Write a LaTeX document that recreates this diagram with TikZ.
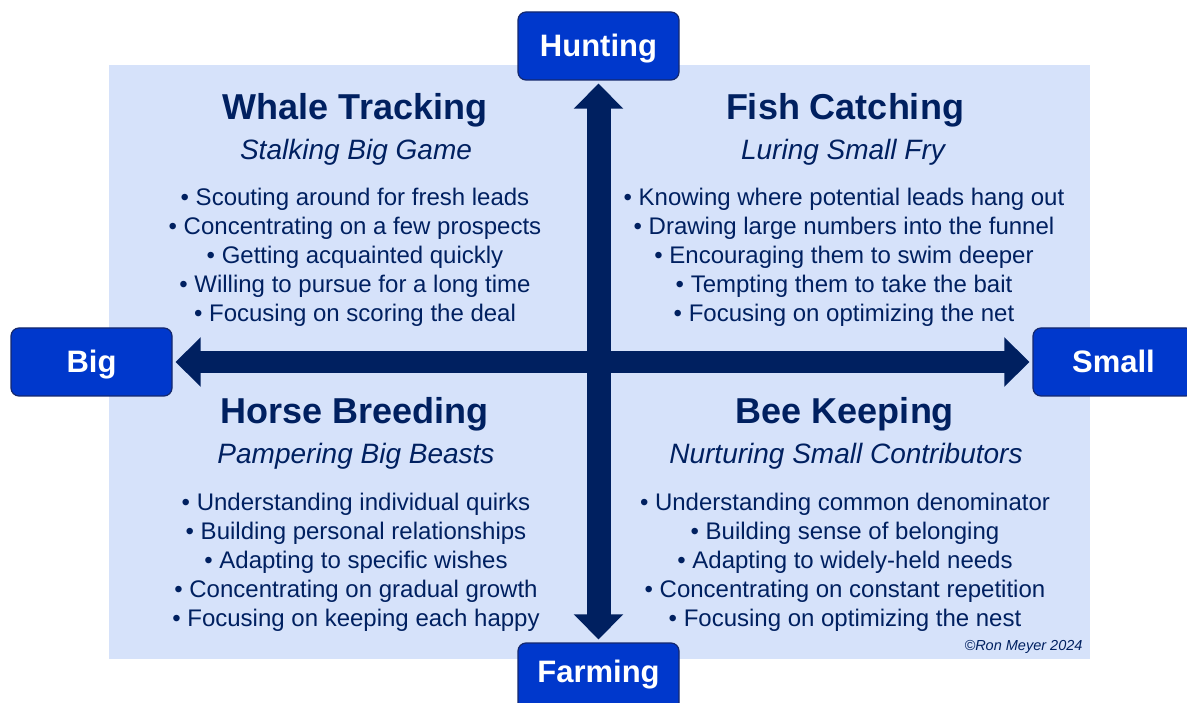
\documentclass[tikz,border=0pt]{standalone}
\usepackage{fontspec}
\setmainfont{Liberation Sans}
\usetikzlibrary{arrows.meta}
\definecolor{navy}{RGB}{0,32,96}
\definecolor{boxblue}{RGB}{0,56,204}
\definecolor{boxline}{RGB}{20,40,110}
\definecolor{paleblue}{RGB}{214,226,250}
\begin{document}
\begin{tikzpicture}[x=1pt,y=-1pt,
    pole/.style={rectangle,rounded corners=8pt,draw=boxline,line width=1.2pt,fill=boxblue,
        minimum width=161pt,minimum height=68pt,text height=22pt,text depth=0pt,
        text=white,font=\fontsize{31}{31}\selectfont\bfseries},
    axis/.style={draw=navy,line width=#1,shorten <=3pt,shorten >=3pt,
        {Triangle[length=25pt,width=48pt]}-{Triangle[length=25pt,width=48pt]}},
    title/.style={anchor=base,text=navy,font=\fontsize{36}{36}\selectfont\bfseries},
    subtitle/.style={anchor=base,text=navy,font=\fontsize{28}{28}\selectfont\itshape},
    points/.style={anchor=base,align=center,text=navy,font=\fontsize{24}{29}\selectfont}]
        \clip (0,0) rectangle (1187,703);
        \fill[paleblue] (109,65) rectangle (1090,659);

        \node[pole] (hunt) at (598.5,46) {Hunting};
        \node[pole,text height=11pt] (farm) at (598.5,677) {Farming};
        \node[pole] (big) at (91.5,362) {Big};
        \node[pole] (small) at (1113.5,362) {Small};

        \draw[axis=24pt] (hunt) -- (farm);
        \draw[axis=22pt] (big) -- (small);

        % top left (base = last line)
        \node[title] (whale) at (355,120) {Whale Tracking};
        \node[subtitle] (whalesub) at (356,160) {Stalking Big Game};
        \node[points] (whalelist) at (355,322) {• Scouting around for fresh leads\\
            • Concentrating on a few prospects\\ • Getting acquainted quickly\\
            • Willing to pursue for a long time\\ • Focusing on scoring the deal};

        % top right
        \node[title] (fish) at (845,120) {Fish Catching};
        \node[subtitle] (fishsub) at (843,160) {Luring Small Fry};
        \node[points] (fishlist) at (844,322) {• Knowing where potential leads hang out\\
            • Drawing large numbers into the funnel\\ • Encouraging them to swim deeper\\
            • Tempting them to take the bait\\ • Focusing on optimizing the net};

        % bottom left
        \node[title] (horse) at (355,424) {Horse Breeding};
        \node[subtitle] (horsesub) at (356,464) {Pampering Big Beasts};
        \node[points] (horselist) at (356,626) {• Understanding individual quirks\\
            • Building personal relationships\\ • Adapting to specific wishes\\
            • Concentrating on gradual growth\\ • Focusing on keeping each happy};

        % bottom right
        \node[title] (bee) at (845,424) {Bee Keeping};
        \node[subtitle] (beesub) at (846,464) {Nurturing Small Contributors};
        \node[points] (beelist) at (845,626) {• Understanding common denominator\\
            • Building sense of belonging\\ • Adapting to widely-held needs\\
            • Concentrating on constant repetition\\ • Focusing on optimizing the nest};

        \node[anchor=base east,text=navy,font=\fontsize{14.5}{14.5}\selectfont\itshape] (credit) at (1086,650) {©Ron Meyer 2024};
    \end{tikzpicture}
\end{document}
